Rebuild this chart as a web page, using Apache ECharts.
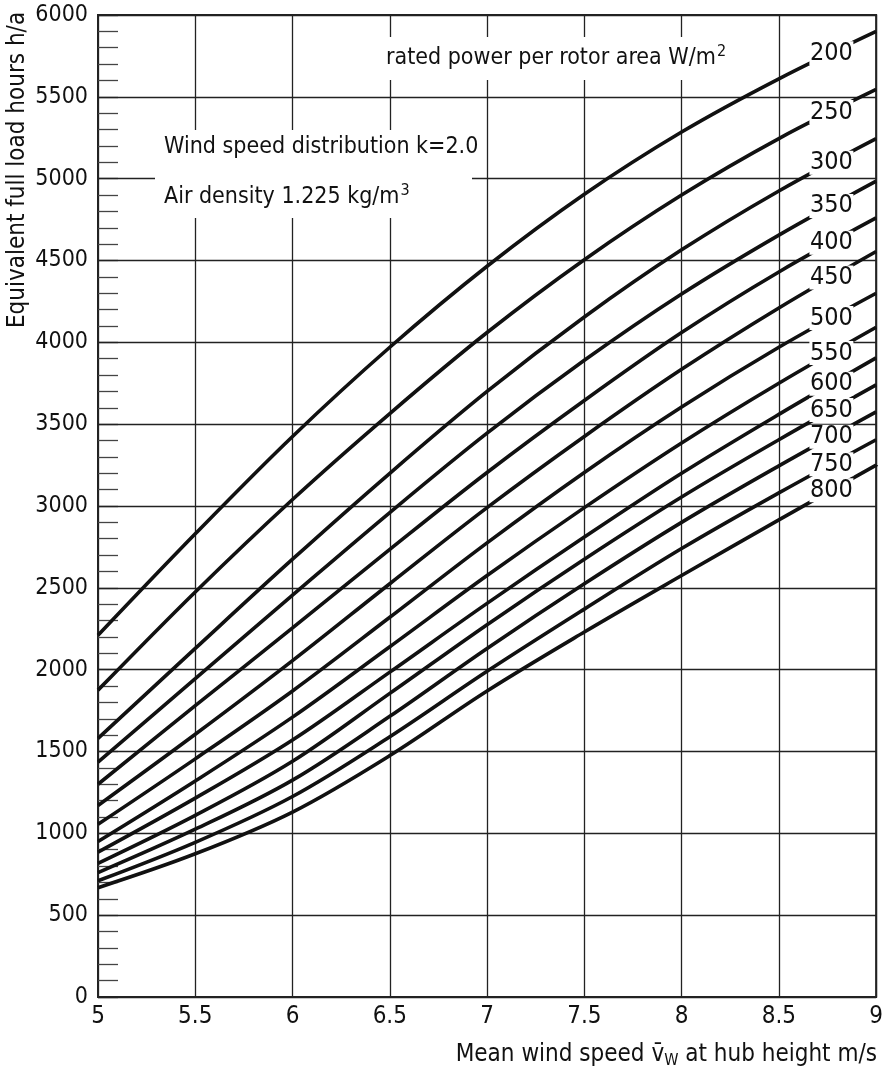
<!DOCTYPE html>
<html>
<head>
<meta charset="utf-8">
<script src="https://cdn.jsdelivr.net/npm/echarts@6/dist/echarts.min.js"></script>
<style>
  html, body { margin: 0; padding: 0; background: #fff; }
  #chart { width: 886px; height: 1071px; }
</style>
</head>
<body>
<div id="chart"></div>
<script>
// Mean wind speed at hub height, m/s
const windSpeed = [5, 5.5, 6, 6.5, 7, 7.5, 8, 8.5, 9];

// Equivalent full load hours (h/a) per rated power per rotor area (W/m²)
const hours200 = [2210, 2830, 3425, 3970, 4465, 4905, 5285, 5610, 5900];
const hours250 = [1875, 2475, 3040, 3565, 4060, 4505, 4900, 5245, 5545];
const hours300 = [1580, 2130, 2675, 3200, 3700, 4155, 4565, 4925, 5245];
const hours350 = [1435, 1945, 2455, 2960, 3445, 3890, 4295, 4655, 4985];
const hours400 = [1300, 1780, 2255, 2735, 3205, 3645, 4060, 4430, 4760];
const hours450 = [1170, 1605, 2055, 2525, 2990, 3425, 3835, 4210, 4555];
const hours500 = [1055, 1455, 1870, 2320, 2775, 3205, 3605, 3970, 4300];
const hours550 = [950, 1320, 1710, 2140, 2575, 2990, 3385, 3750, 4092];
const hours600 = [885, 1215, 1570, 1985, 2405, 2810, 3200, 3560, 3905];
const hours650 = [817, 1110, 1440, 1855, 2275, 2675, 3055, 3405, 3740];
const hours700 = [760, 1025, 1325, 1715, 2130, 2525, 2900, 3245, 3575];
const hours750 = [710, 945, 1225, 1590, 1990, 2370, 2740, 3080, 3405];
const hours800 = [668, 875, 1130, 1475, 1870, 2230, 2575, 2915, 3250];

const curveNames = ['200', '250', '300', '350', '400', '450', '500', '550', '600', '650', '700', '750', '800'];
const curveHours = [hours200, hours250, hours300, hours350, hours400, hours450, hours500,
                    hours550, hours600, hours650, hours700, hours750, hours800];

// Axis ranges and tick steps
const xMin = 5, xMax = 9, xStep = 0.5;
const yMin = 0, yMax = 6000, yStep = 500;

// Wind speed at which each curve carries its rated-power label
const LABEL_SPEED = 8.77;

const FONT = "'Liberation Sans Narrow','DejaVu Sans Condensed','Liberation Sans',sans-serif";
const INK = '#111';

// Linear interpolation along one curve
function hoursAt(hours, v) {
  for (let i = 0; i < windSpeed.length - 1; i++) {
    if (v >= windSpeed[i] && v <= windSpeed[i + 1]) {
      const t = (v - windSpeed[i]) / (windSpeed[i + 1] - windSpeed[i]);
      return hours[i] + t * (hours[i + 1] - hours[i]);
    }
  }
  return hours[hours.length - 1];
}

const series = curveNames.map((name, k) => ({
  type: 'line',
  name: name,
  data: windSpeed.map((v, i) => [v, curveHours[k][i]]),
  smooth: 0.35,
  symbol: 'none',
  silent: true,
  z: 3,
  lineStyle: { color: INK, width: 3.6 },
  markPoint: {
    silent: true,
    z: 6,
    symbol: 'rect',
    symbolSize: [44, 24],
    itemStyle: { color: '#fff', borderWidth: 0 },
    label: {
      show: true, position: 'inside', formatter: name,
      color: INK, fontSize: 25, fontFamily: FONT
    },
    data: [{ coord: [LABEL_SPEED, hoursAt(curveHours[k], LABEL_SPEED)] }]
  }
}));

const chart = echarts.init(document.getElementById('chart'), null, { renderer: 'canvas' });

chart.setOption({
  animation: false,
  backgroundColor: '#fff',
  grid: {
    left: 98, right: 9, top: 15, bottom: 74,
    show: true, borderColor: '#222', borderWidth: 2, backgroundColor: 'transparent'
  },
  xAxis: {
    type: 'value', min: xMin, max: xMax, interval: xStep,
    axisLine: { show: true, lineStyle: { color: '#222', width: 2 } },
    axisTick: { show: false },
    splitLine: { show: true, lineStyle: { color: '#222', width: 1.3 } },
    axisLabel: { color: INK, fontSize: 24, fontFamily: FONT, margin: 8, formatter: v => String(v) }
  },
  yAxis: {
    type: 'value', min: yMin, max: yMax, interval: yStep,
    axisLine: { show: true, lineStyle: { color: '#222', width: 2 } },
    axisTick: { show: true, inside: true, length: 20, lineStyle: { color: '#222', width: 1.3 } },
    minorTick: { show: true, splitNumber: 5, length: 20, lineStyle: { color: '#444', width: 1.3 } },
    splitLine: { show: true, lineStyle: { color: '#222', width: 1.3 } },
    axisLabel: { color: INK, fontSize: 23, fontFamily: FONT, margin: 10, formatter: v => String(v) }
  },
  series: series,
  graphic: [
    // heading box
    { type: 'rect', x: 378, y: 37, z: 10, shape: { width: 372, height: 43 }, style: { fill: '#fff' } },
    {
      type: 'text', x: 386, y: 58, z: 11,
      style: {
        text: '{a|rated power per rotor area W/m}{s|2}',
        verticalAlign: 'middle',
        rich: {
          a: { fontSize: 23, fontFamily: FONT, fill: INK, lineHeight: 30 },
          s: { fontSize: 16, fontFamily: FONT, fill: INK, lineHeight: 30, padding: [0, 0, 12, 1] }
        }
      }
    },
    // conditions box
    { type: 'rect', x: 155, y: 130, z: 10, shape: { width: 317, height: 88 }, style: { fill: '#fff' } },
    {
      type: 'text', x: 164, y: 172, z: 11,
      style: {
        text: '{a|Wind speed distribution k=2.0}\n{a|Air density 1.225 kg/m}{s|3}',
        verticalAlign: 'middle',
        rich: {
          a: { fontSize: 23, fontFamily: FONT, fill: INK, lineHeight: 50 },
          s: { fontSize: 16, fontFamily: FONT, fill: INK, lineHeight: 50, padding: [0, 0, 12, 1] }
        }
      }
    },
    // y axis title
    {
      type: 'text', x: 18, y: 170, rotation: Math.PI / 2, z: 11,
      style: {
        text: 'Equivalent full load hours h/a',
        align: 'center', verticalAlign: 'middle',
        fontSize: 24, fontFamily: FONT, fill: INK
      }
    },
    // x axis title
    {
      type: 'text', x: 877, y: 1055, z: 11,
      style: {
        text: '{a|Mean wind speed v\u0304}{w|W}{a| at hub height m/s}',
        align: 'right', verticalAlign: 'middle',
        rich: {
          a: { fontSize: 24, fontFamily: FONT, fill: INK, lineHeight: 30 },
          w: { fontSize: 16, fontFamily: FONT, fill: INK, lineHeight: 30, padding: [12, 0, 0, 0] }
        }
      }
    }
  ]
});
</script>
</body>
</html>
